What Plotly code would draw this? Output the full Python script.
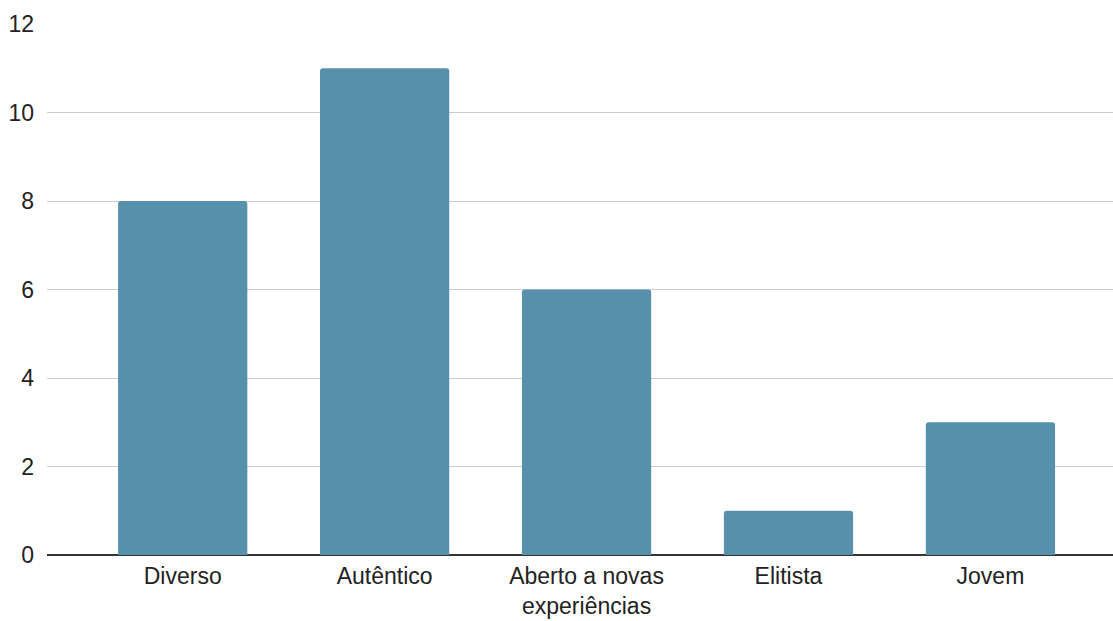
import plotly.graph_objects as go

categories = ["Diverso", "Autêntico", "Aberto a novas<br>experiências", "Elitista", "Jovem"]
values = [8, 11, 6, 1, 3]
y_ticks = [0, 2, 4, 6, 8, 10, 12]

fig = go.Figure(go.Bar(
    x=list(range(len(categories))),
    y=values,
    marker=dict(color="#5790ab", line=dict(width=0)),
    width=0.64,
))

fig.update_layout(
    width=1113, height=621,
    margin=dict(l=47, r=0, t=24, b=66),
    plot_bgcolor="white", paper_bgcolor="white",
    font=dict(family="Liberation Sans, Arial, sans-serif", size=23, color="#222222"),
    showlegend=False,
    barcornerradius=3,
    xaxis=dict(
        tickmode="array",
        tickvals=list(range(len(categories))),
        ticktext=categories,
        range=[-0.672, 4.607],
        showgrid=False,
        showline=False,
        ticks="",
        zeroline=False,
        fixedrange=True,
        automargin=False,
        ticklabelstandoff=5,
        tickfont=dict(size=23),
    ),
    yaxis=dict(
        range=[0, 12],
        tickvals=y_ticks,
        showgrid=True,
        gridcolor="#cccccc",
        gridwidth=1.3,
        zeroline=True,
        zerolinecolor="#333333",
        zerolinewidth=1.5,
        ticks="",
        ticklabelstandoff=12,
        showline=False,
        automargin=False,
        tickfont=dict(size=23),
    ),
)

fig.write_html("out.html")
